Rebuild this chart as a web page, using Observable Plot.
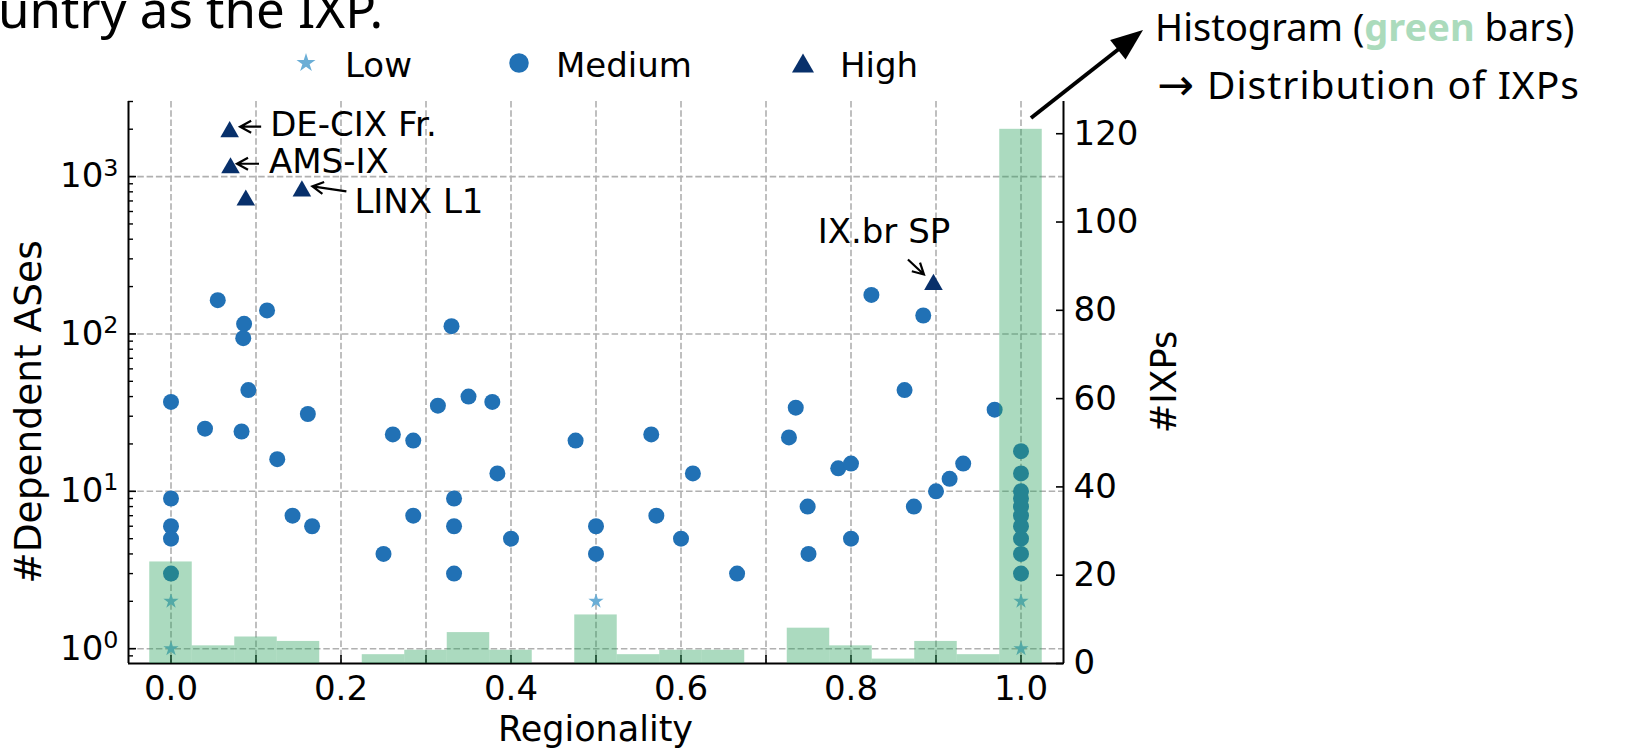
<!DOCTYPE html>
<html><head><meta charset="utf-8">
<script src="https://cdn.jsdelivr.net/npm/d3@7"></script>
<script src="https://cdn.jsdelivr.net/npm/@observablehq/plot@0.6"></script>
<style>
body{margin:0;background:#fff;}
#wrap{position:relative;width:1625px;height:752px;overflow:hidden;background:#fff;}
#wrap > div, #wrap > svg {position:absolute;left:0;top:0;}
</style></head>
<body><div id="wrap"><div id="p1"></div><div id="p2"></div><svg id="ov" width="1625" height="752"></svg></div>
<script>
// ---------------- data ----------------
const histBinCenters = [0.00,0.05,0.10,0.15,0.25,0.30,0.35,0.40,0.50,0.55,0.60,0.65,0.75,0.80,0.85,0.90,0.95,1.00];
const histCounts     = [23,4,6,5,2,3,7,3,11,2,3,3,8,4,1,5,2,121];
const binWidth = 0.05;

const lowX = [0,0,0.5,1,1];
const lowY = [2,1,2,2,1];

const medX = [0,0,0,0,0,
  0.040,0.055,0.083,0.085,0.086,0.091,0.113,0.125,0.143,0.161,0.166,
  0.250,0.261,0.285,0.285,0.314,0.330,0.333,0.333,0.333,0.350,0.378,0.384,0.400,
  0.476,0.500,0.500,0.565,0.571,0.600,0.614,0.666,
  0.727,0.735,0.749,0.750,0.785,0.800,0.800,0.824,0.863,0.874,0.885,0.900,0.916,0.932,0.969,
  1,1,1,1,1,1,1,1,1,1];
const medY = [37,9,6,5,3,
  25,164,24,94,116,44,141,16,7,31,6,
  4,23,21,7,35,112,9,6,3,40,37,13,5,
  21,6,4,23,7,5,13,3,
  22,34,8,4,14,15,5,177,44,8,131,10,12,15,33,
  18,13,10,9,8,7,6,5,4,3];

const highX = [0.069,0.070,0.088,0.154,0.897];
const highY = [2000,1180,736,840,214];
const highNames = ["DE-CIX Fr.","AMS-IX","","LINX L1","IX.br SP"];

const xTicksLabeled = [0,0.2,0.4,0.6,0.8,1.0];
const xTicksMinor = [0.1,0.3,0.5,0.7,0.9];
const yTicksMajor = [1,10,100,1000];
const yTicksMinor = [0.9,2,3,4,5,6,7,8,9,20,30,40,50,60,70,80,90,200,300,400,500,600,700,800,900,2000,3000];
const y2Ticks = [0,20,40,60,80,100,120];
const legendLabels = ["Low","Medium","High"];
const xLabel = "Regionality", yLabel = "#Dependent ASes", y2Label = "#IXPs";
const titleText = "untry as the IXP.";
const noteLine1 = ["Histogram (","green"," bars)"];
const noteLine2 = ["\u2192","Distribution of IXPs"];

// ---------------- layout / style ----------------
const W = 1625, H = 752;
const M = {top:101, right:562, bottom:89, left:128};
const xDomain = [-0.05, 1.05];
const yDomain = [0.805, 3000];
const y2Domain = [0, 127.3];
const FONT = "DejaVu Sans";
const NOTE_FONT = "Noto Sans";
const FS = 34;
const C_LOW = "#6baed6", C_MED = "#2171b5", C_HIGH = "#08306b", C_HIST = "#2ca25f";
const gridStyle = {stroke:"#b0b0b0", strokeOpacity:1, strokeWidth:1.6, strokeDasharray:"6.5,2.8"};

const low = lowX.map((x,i)=>({x, y:lowY[i]}));
const med = medX.map((x,i)=>({x, y:medY[i]}));
const high = highX.map((x,i)=>({x, y:highY[i], name:highNames[i]}));
const bins = histBinCenters.map((c,i)=>({x1:c-binWidth/2, x2:c+binWidth/2, n:histCounts[i]}));

const common = {width:W, height:H, marginTop:M.top, marginRight:M.right, marginBottom:M.bottom, marginLeft:M.left,
  style:{fontFamily:FONT, fontSize:FS+"px", background:"transparent", color:"#000", overflow:"visible"}};

const p1 = Plot.plot({
  ...common,
  x:{domain:xDomain},
  y:{type:"log", domain:yDomain},
  marks:[
    Plot.gridX([...xTicksLabeled, ...xTicksMinor], gridStyle),
    Plot.gridY(yTicksMajor, gridStyle),
    Plot.dot(low, {x:"x", y:"y", symbol:"star", r:4.8, fill:C_LOW}),
    Plot.dot(med, {x:"x", y:"y", symbol:"circle", r:8, fill:C_MED}),
    Plot.dot(high, {x:"x", y:"y", symbol:"triangle", r:6.9, fill:C_HIGH, dy:2.6}),
    Plot.axisX(xTicksLabeled, {tickSize:-8, tickPadding:20, strokeWidth:1.6, fontSize:FS, tickFormat:d=>d.toFixed(1), label:null}),
    Plot.axisX(xTicksMinor, {tickSize:-8, strokeWidth:1.6, tickFormat:()=>"", label:null}),
    Plot.axisY(yTicksMajor, {tickSize:-8, tickPadding:18, strokeWidth:1.6, fontSize:FS, tickFormat:d=>"10^"+Math.round(Math.log10(d)), label:null}),
    Plot.axisY(yTicksMinor, {tickSize:-5, strokeWidth:1.4, tickFormat:()=>"", label:null}),
    Plot.ruleX([xDomain[0]], {strokeWidth:2}),
    Plot.ruleY([yDomain[0]], {strokeWidth:2})
  ]
});
document.getElementById("p1").appendChild(p1);

const p2 = Plot.plot({
  ...common,
  x:{domain:xDomain, axis:null},
  y:{domain:y2Domain},
  marks:[
    Plot.rect(bins, {x1:"x1", x2:"x2", y1:0, y2:"n", fill:C_HIST, fillOpacity:0.4}),
    Plot.axisY(y2Ticks, {anchor:"right", tickSize:-8, tickPadding:18, strokeWidth:1.6, fontSize:FS, label:null}),
    Plot.ruleX([xDomain[1]], {strokeWidth:2})
  ]
});
document.getElementById("p2").appendChild(p2);

// superscript exponents on log tick labels
d3.select(p1).selectAll('g[aria-label="y-axis tick label"] text').each(function(){
  const t = this.textContent;
  if (t.indexOf("^") < 0) return;
  const [b, e] = t.split("^");
  this.textContent = b;
  const ts = document.createElementNS("http://www.w3.org/2000/svg","tspan");
  ts.setAttribute("font-size","0.7em");
  ts.setAttribute("dy","-0.5em");
  ts.textContent = e;
  this.appendChild(ts);
});

// ---------------- overlay ----------------
const sx = p1.scale("x"), sy = p1.scale("y");
const ov = d3.select("#ov").attr("font-family", FONT);

// title fragment (clipped at top-left)
ov.append("text").attr("x",-2).attr("y",28).attr("font-family",NOTE_FONT).attr("font-size",51).attr("fill","#000").text(titleText);

// note top right
const note = ov.append("text").attr("font-family",NOTE_FONT).attr("font-size",38).attr("fill","#000");
note.append("tspan").attr("x",1155).attr("y",41).text(noteLine1[0]);
note.append("tspan").attr("font-weight","bold").attr("fill","#abdbbc").text(noteLine1[1]);
note.append("tspan").text(noteLine1[2]);
ov.append("text").attr("font-family","DejaVu Sans").attr("font-size",44).attr("x",1157).attr("y",100).text(noteLine2[0]);
ov.append("text").attr("font-family",NOTE_FONT).attr("font-size",39).attr("x",1207).attr("y",99)
  .attr("textLength",372).attr("lengthAdjust","spacing").text(noteLine2[1]);

// big arrow
function bigArrow(x0,y0,x1,y1,hl,hw,sw){
  const L = Math.hypot(x1-x0,y1-y0), ux=(x1-x0)/L, uy=(y1-y0)/L;
  const bx = x1-ux*hl, by = y1-uy*hl;
  ov.append("line").attr("x1",x0).attr("y1",y0).attr("x2",bx+ux*2).attr("y2",by+uy*2).attr("stroke","#000").attr("stroke-width",sw);
  ov.append("path").attr("d",`M${x1},${y1}L${bx-uy*hw},${by+ux*hw}L${bx+uy*hw},${by-ux*hw}Z`).attr("fill","#000");
}
bigArrow(1031,118,1143,30,32,12.5,4);

// legend
const legSym = [d3.symbolStar, d3.symbolCircle, d3.symbolTriangle];
const legSize = [112, 300, 210];
const legCol = [C_LOW, C_MED, C_HIGH];
const legX = [306, 519, 803], legTX = [345, 556, 840], legDy = [0,0,3.2];
legendLabels.forEach((lab,i)=>{
  ov.append("path").attr("d", d3.symbol(legSym[i], legSize[i])()).attr("transform",`translate(${legX[i]},${63+legDy[i]})`).attr("fill",legCol[i]);
  ov.append("text").attr("x",legTX[i]).attr("y",76.5).attr("font-size",FS).attr("fill","#000").text(lab);
});

// axis labels
ov.append("text").attr("x",(M.left+W-M.right)/2).attr("y",741).attr("text-anchor","middle").attr("font-size",35).text(xLabel);
ov.append("text").attr("transform",`translate(41,412) rotate(-90)`).attr("text-anchor","middle").attr("font-size",37.5).text(yLabel);
ov.append("text").attr("transform",`translate(1176,${(M.top+H-M.bottom)/2}) rotate(-90)`).attr("text-anchor","middle").attr("font-size",35).text(y2Label);

// point annotations (offsets in px from the marker)
const annLayout = {
  "DE-CIX Fr.": {tx:41, ty:7, anchor:"start", a0:[32,-2], a1:[11,-2]},
  "AMS-IX":     {tx:39, ty:8, anchor:"start", a0:[29,-1], a1:[7,-1]},
  "LINX L1":    {tx:53, ty:25, anchor:"start", a0:[45,3.4], a1:[11,-1.6]},
  "IX.br SP":   {tx:-49, ty:-38, anchor:"middle", a0:[-25,-22], a1:[-9,-7]}
};
function openArrow(x0,y0,x1,y1){
  const L = Math.hypot(x1-x0,y1-y0), ux=(x1-x0)/L, uy=(y1-y0)/L, hl=11, hw=6;
  const bx=x1-ux*hl, by=y1-uy*hl;
  ov.append("path").attr("d",`M${x0},${y0}L${x1},${y1}M${bx-uy*hw},${by+ux*hw}L${x1},${y1}L${bx+uy*hw},${by-ux*hw}`)
    .attr("fill","none").attr("stroke","#000").attr("stroke-width",2.2);
}
high.forEach(d=>{
  const l = annLayout[d.name]; if (!l) return;
  const px = sx.apply(d.x), py = sy.apply(d.y);
  ov.append("text").attr("x",px+l.tx).attr("y",py+l.ty).attr("text-anchor",l.anchor).attr("font-size",FS).text(d.name);
  openArrow(px+l.a0[0], py+l.a0[1], px+l.a1[0], py+l.a1[1]);
});
</script>
</body></html>
